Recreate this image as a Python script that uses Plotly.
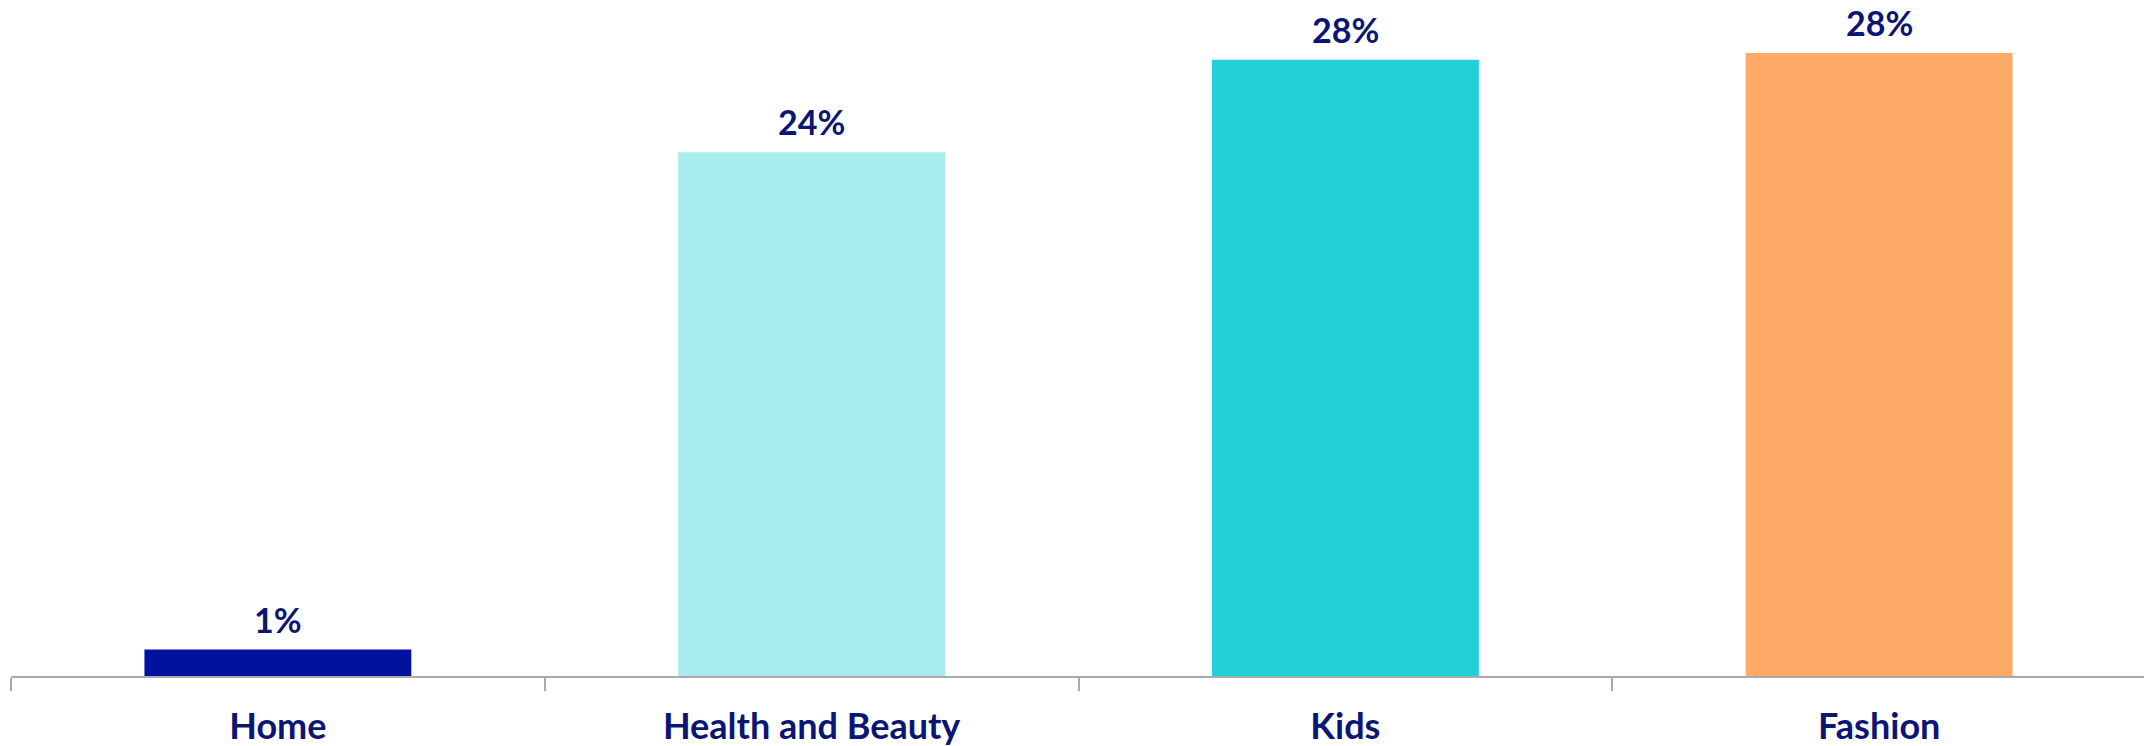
import plotly.graph_objects as go

categories = ["Home", "Health and Beauty", "Kids", "Fashion"]
values = [1.2, 23.8, 28.0, 28.3]
labels = ["1%", "24%", "28%", "28%"]
colors = ["#00129E", "#A8ECF0", "#22D0D8", "#FFAA66"]

NAVY = "#0B1573"
FONT = "Lato, 'Open Sans', sans-serif"

fig = go.Figure(go.Bar(
    x=categories, y=values, marker=dict(color=colors, line=dict(width=0)),
    hoverinfo="skip",
))

for c, v, t in zip(categories, values, labels):
    fig.add_annotation(x=c, y=v, text=f"<b>{t}</b>", showarrow=False,
                       yanchor="bottom", yshift=9, borderpad=0,
                       font=dict(family=FONT, size=34, color=NAVY))

fig.update_layout(
    width=2152, height=746,
    margin=dict(l=3, r=14, t=11, b=78),
    paper_bgcolor="white", plot_bgcolor="white",
    bargap=0.5, showlegend=False,
    xaxis=dict(
        tickson="boundaries", ticks="outside", ticklen=13, tickwidth=2,
        tickcolor="#AAAAAA", showline=True, linecolor="#AAAAAA", linewidth=2,
        tickfont=dict(family=FONT, size=36, color=NAVY),
        tickprefix="<b>", ticksuffix="</b>", ticklabelstandoff=18,
        showgrid=False,
    ),
    yaxis=dict(range=[0, 29.85], visible=False, showgrid=False, zeroline=False),
)

fig.write_html("out.html")
